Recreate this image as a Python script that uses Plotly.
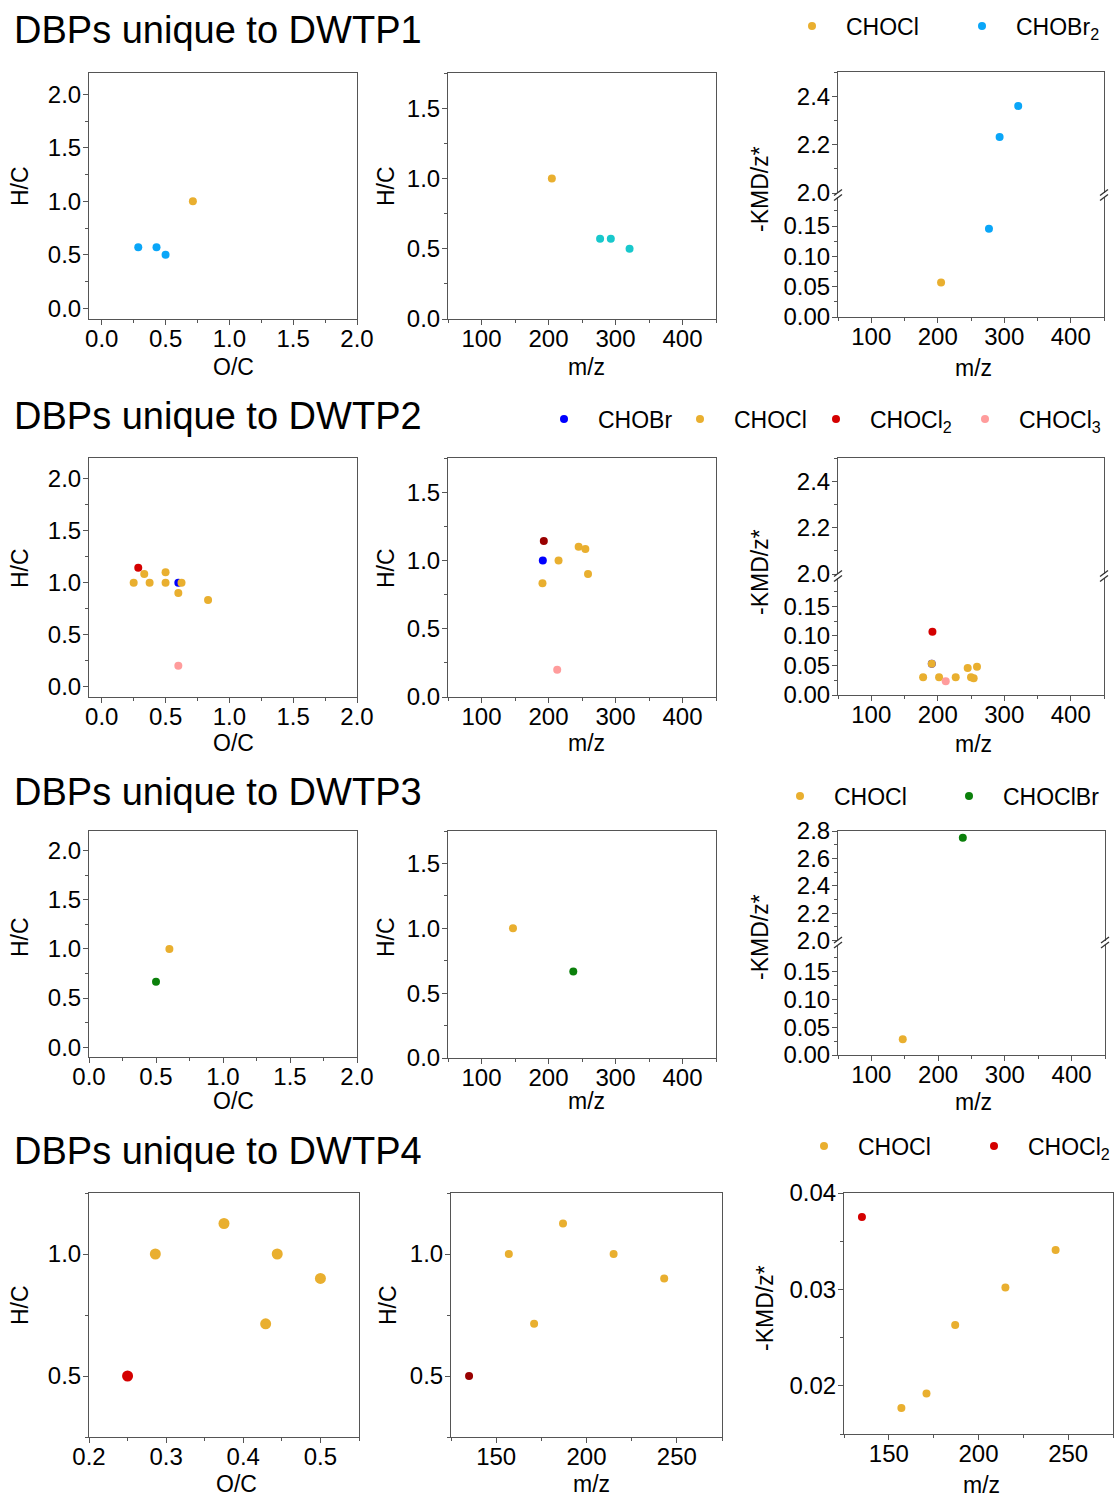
import copy
import plotly.graph_objects as go

W, H = 1115, 1497

# ---------------- data ----------------
# DWTP1
d1_chocl_oc = [0.714]
d1_chocl_hc = [1.0]
d1_chocl_mz = [205]
d1_chocl_kmd = [0.057]
d1_chobr2_oc = [0.286, 0.429, 0.5]
d1_chobr2_hc = [0.571, 0.571, 0.5]
d1_chobr2_mz = [277, 293, 321]
d1_chobr2_kmd = [0.1455, 2.231, 2.36]

# DWTP2  (van Krevelen panel)
d2_vk_chobr_oc = [0.6]
d2_vk_chobr_hc = [1.0]
d2_vk_chocl_oc = [0.25, 0.333, 0.375, 0.5, 0.5, 0.6, 0.625, 0.833]
d2_vk_chocl_hc = [1.0, 1.083, 1.0, 1.1, 1.0, 0.9, 1.0, 0.833]
d2_vk_chocl2_oc = [0.286]
d2_vk_chocl2_hc = [1.143]
d2_vk_chocl3_oc = [0.6]
d2_vk_chocl3_hc = [0.2]
# DWTP2  (m/z vs H/C panel)
d2_mh_chobr_mz = [191.5]
d2_mh_chobr_hc = [1.0]
d2_mh_chocl_mz = [191, 215, 245, 255, 259]
d2_mh_chocl_hc = [0.833, 1.0, 1.1, 1.083, 0.9]
d2_mh_chocl2_mz = [193]
d2_mh_chocl2_hc = [1.143]
d2_mh_chocl3_mz = [213]
d2_mh_chocl3_hc = [0.2]
# DWTP2  (m/z vs -KMD/z* panel)
d2_km_chobr_mz = [191]
d2_km_chobr_kmd = [0.053]
d2_km_chocl_mz = [178, 191, 202, 227, 245, 250, 254, 259]
d2_km_chocl_kmd = [0.030, 0.053, 0.030, 0.030, 0.0455, 0.030, 0.0285, 0.048]
d2_km_chocl2_mz = [192]
d2_km_chocl2_kmd = [0.107]
d2_km_chocl3_mz = [212]
d2_km_chocl3_kmd = [0.0234]

# DWTP3
d3_chocl_oc = [0.6]
d3_chocl_hc = [1.0]
d3_chocl_mz = [147]
d3_chocl_kmd = [0.028]
d3_choclbr_oc = [0.5]
d3_choclbr_hc = [0.667]
d3_choclbr_mz = [237]
d3_choclbr_kmd = [2.75]

# DWTP4
d4_chocl_oc = [0.286, 0.429, 0.375, 0.444, 0.5]
d4_chocl_hc = [1.0, 0.714, 1.125, 1.0, 0.9]
d4_chocl_mz = [157, 171, 187, 215, 243]
d4_chocl_kmd = [0.0177, 0.0192, 0.0263, 0.0302, 0.0341]
d4_chocl2_oc = [0.25]
d4_chocl2_hc = [0.5]
d4_chocl2_mz = [135]
d4_chocl2_kmd = [0.0375]

row_titles = ["DBPs unique to DWTP1", "DBPs unique to DWTP2",
              "DBPs unique to DWTP3", "DBPs unique to DWTP4"]

# ---------------- style ----------------
ORANGE = "#E9AF2F"
BLUE_BR2 = "#0AA6F8"
TEAL = "#18C8CC"
BLUE = "#0000FF"
RED = "#D40000"
DARKRED = "#990000"
PINK = "#FF9C9C"
GREEN = "#0B800B"
AXC = "#555555"
FONT = "Arial, Liberation Sans, sans-serif"
TICKSIZE = 24

AXBASE = dict(showline=True, linecolor=AXC, linewidth=1, ticks="outside", ticklen=5,
              tickwidth=1, tickcolor=AXC, showgrid=False, zeroline=False, automargin=False,
              tickfont=dict(size=TICKSIZE, color="black", family=FONT),
              minor=dict(ticks="outside", ticklen=3, tickwidth=1, tickcolor=AXC, showgrid=False))

layout = dict(width=W, height=H, margin=dict(l=0, r=0, t=0, b=0, autoexpand=False),
              paper_bgcolor="white", plot_bgcolor="white",
              font=dict(family=FONT, size=22, color="black"))
annotations = []
shapes = []
traces = []
n = [0]


def px(x):
    return x / W


def py(y):
    return 1 - y / H


def subplot(box, xr, yr, xo, yo):
    n[0] += 1
    k = n[0]
    l, t, r, b = box
    xn = "xaxis" if k == 1 else f"xaxis{k}"
    yn = "yaxis" if k == 1 else f"yaxis{k}"
    xref = "x" if k == 1 else f"x{k}"
    yref = "y" if k == 1 else f"y{k}"
    xa = copy.deepcopy(AXBASE)
    xa.update(domain=[px(l), px(r)], range=xr, anchor=yref, ticklabelstandoff=-7)
    for kk, v in xo.items():
        if kk == "minor":
            xa["minor"].update(v)
        else:
            xa[kk] = v
    ya = copy.deepcopy(AXBASE)
    ya.update(domain=[py(b), py(t)], range=yr, anchor=xref, ticklabelstandoff=-3)
    for kk, v in yo.items():
        if kk == "minor":
            ya["minor"].update(v)
        else:
            ya[kk] = v
    layout[xn] = xa
    layout[yn] = ya
    return xref, yref


def pts(ax, xs, ys, color, size, name, legend, show):
    traces.append(go.Scatter(x=xs, y=ys, mode="markers", xaxis=ax[0], yaxis=ax[1],
                             marker=dict(color=color, size=size, line=dict(width=0)),
                             name=name, legend=legend, showlegend=show, hoverinfo="x+y+name"))


def text(x, y, s, size=23, angle=0, anchor="center"):
    annotations.append(dict(x=px(x), y=py(y), xref="paper", yref="paper", text=s,
                            showarrow=False, textangle=angle, xanchor=anchor, yanchor="middle",
                            font=dict(size=size, family=FONT, color="black")))


def breakmark(x, yj):
    for d in (-2.5, 2.5):
        shapes.append(dict(type="line", xref="paper", yref="paper",
                           x0=px(x - 4), y0=py(yj + d + 3), x1=px(x + 4), y1=py(yj + d - 3),
                           line=dict(color="#333333", width=1.3)))


VK_X = dict(dtick=0.5, tick0=0, tickformat=".1f", mirror=True, minor=dict(dtick=0.25))
VK_Y = dict(dtick=0.5, tick0=0, tickformat=".1f", mirror=True, minor=dict(dtick=0.25))
MZ_X = dict(dtick=100, tick0=0, mirror=True, minor=dict(dtick=50))
UP_X = dict(side="top", ticks="", showticklabels=False, mirror=False, minor=dict(ticks=""))
LO_X = dict(dtick=100, tick0=0, mirror=False, minor=dict(dtick=50))
LO_Y = dict(dtick=0.05, tick0=0, tickformat=".2f", mirror=True, minor=dict(dtick=0.025))


def up_y():
    return dict(dtick=0.2, tick0=0, tickformat=".1f", mirror=True, minor=dict(dtick=0.1))


def broken(l, r, top, junction, bottom, upr, lowr):
    a_up = subplot((l, top, r, junction - 2), [50, 450], upr, UP_X, up_y())
    a_lo = subplot((l, junction + 2, r, bottom), [50, 450], lowr, LO_X, LO_Y)
    breakmark(l, junction)
    breakmark(r, junction)
    return a_up, a_lo


LOW_KMD = [0, 0.198]

# ---------------- row 1 ----------------
a1 = subplot((89, 73, 357, 319), [-0.1, 2.0], [-0.1, 2.2], VK_X, VK_Y)
b1 = subplot((448, 73, 716, 319), [50, 450], [0, 1.75], MZ_X, VK_Y)
c1u, c1l = broken(838, 1104, 72, 195, 317, [2.0, 2.5], LOW_KMD)

pts(a1, d1_chocl_oc, d1_chocl_hc, ORANGE, 8, "CHOCl", "legend", True)
pts(a1, d1_chobr2_oc, d1_chobr2_hc, BLUE_BR2, 8, "CHOBr<sub>2</sub>", "legend", True)
pts(b1, d1_chocl_mz, d1_chocl_hc, ORANGE, 8, "CHOCl", "legend", False)
pts(b1, d1_chobr2_mz, d1_chobr2_hc, TEAL, 8, "CHOBr<sub>2</sub>", "legend", False)
for ax in (c1u, c1l):
    pts(ax, d1_chocl_mz, d1_chocl_kmd, ORANGE, 8, "CHOCl", "legend", False)
    pts(ax, d1_chobr2_mz, d1_chobr2_kmd, BLUE_BR2, 8, "CHOBr<sub>2</sub>", "legend", False)

# ---------------- row 2 ----------------
a2 = subplot((89, 458, 357, 697), [-0.1, 2.0], [-0.1, 2.2], VK_X, VK_Y)
b2 = subplot((448, 458, 716, 697), [50, 450], [0, 1.75], MZ_X, VK_Y)
c2u, c2l = broken(838, 1104, 458, 576, 695, [2.0, 2.5], LOW_KMD)

pts(a2, d2_vk_chobr_oc, d2_vk_chobr_hc, BLUE, 8, "CHOBr", "legend2", True)
pts(a2, d2_vk_chocl_oc, d2_vk_chocl_hc, ORANGE, 8, "CHOCl", "legend2", True)
pts(a2, d2_vk_chocl2_oc, d2_vk_chocl2_hc, RED, 8, "CHOCl<sub>2</sub>", "legend2", True)
pts(a2, d2_vk_chocl3_oc, d2_vk_chocl3_hc, PINK, 8, "CHOCl<sub>3</sub>", "legend2", True)
pts(b2, d2_mh_chobr_mz, d2_mh_chobr_hc, BLUE, 8, "CHOBr", "legend2", False)
pts(b2, d2_mh_chocl_mz, d2_mh_chocl_hc, ORANGE, 8, "CHOCl", "legend2", False)
pts(b2, d2_mh_chocl2_mz, d2_mh_chocl2_hc, DARKRED, 8, "CHOCl<sub>2</sub>", "legend2", False)
pts(b2, d2_mh_chocl3_mz, d2_mh_chocl3_hc, PINK, 8, "CHOCl<sub>3</sub>", "legend2", False)
for ax in (c2u, c2l):
    pts(ax, d2_km_chobr_mz, d2_km_chobr_kmd, BLUE, 8, "CHOBr", "legend2", False)
    pts(ax, d2_km_chocl_mz, d2_km_chocl_kmd, ORANGE, 8, "CHOCl", "legend2", False)
    pts(ax, d2_km_chocl2_mz, d2_km_chocl2_kmd, RED, 8, "CHOCl<sub>2</sub>", "legend2", False)
    pts(ax, d2_km_chocl3_mz, d2_km_chocl3_kmd, PINK, 8, "CHOCl<sub>3</sub>", "legend2", False)

# ---------------- row 3 ----------------
a3 = subplot((89, 831, 357, 1057), [0, 2.0], [-0.1, 2.2], VK_X, VK_Y)
b3 = subplot((448, 831, 716, 1058), [50, 450], [0, 1.75], MZ_X, VK_Y)
c3u, c3l = broken(838, 1105, 831, 942.5, 1055, [2.0, 2.8], LOW_KMD)

pts(a3, d3_chocl_oc, d3_chocl_hc, ORANGE, 8, "CHOCl", "legend3", True)
pts(a3, d3_choclbr_oc, d3_choclbr_hc, GREEN, 8, "CHOClBr", "legend3", True)
pts(b3, d3_chocl_mz, d3_chocl_hc, ORANGE, 8, "CHOCl", "legend3", False)
pts(b3, d3_choclbr_mz, d3_choclbr_hc, GREEN, 8, "CHOClBr", "legend3", False)
for ax in (c3u, c3l):
    pts(ax, d3_chocl_mz, d3_chocl_kmd, ORANGE, 8, "CHOCl", "legend3", False)
    pts(ax, d3_choclbr_mz, d3_choclbr_kmd, GREEN, 8, "CHOClBr", "legend3", False)

# ---------------- row 4 ----------------
a4 = subplot((89, 1193, 359, 1437), [0.2, 0.55], [0.25, 1.25],
             dict(dtick=0.1, tick0=0, tickformat=".1f", mirror=True, minor=dict(dtick=0.05)), VK_Y)
b4 = subplot((451, 1193, 722, 1437), [125, 275], [0.25, 1.25],
             dict(dtick=50, tick0=0, mirror=True, minor=dict(dtick=25)), VK_Y)
c4 = subplot((844, 1193, 1113, 1434), [125, 275], [0.015, 0.04],
             dict(dtick=50, tick0=0, mirror=True, minor=dict(dtick=25)),
             dict(dtick=0.01, tick0=0, tickformat=".2f", mirror=True, minor=dict(dtick=0.005)))

pts(a4, d4_chocl_oc, d4_chocl_hc, ORANGE, 11, "CHOCl", "legend4", False)
pts(a4, d4_chocl2_oc, d4_chocl2_hc, RED, 11, "CHOCl<sub>2</sub>", "legend4", False)
pts(b4, d4_chocl_mz, d4_chocl_hc, ORANGE, 8, "CHOCl", "legend4", False)
pts(b4, d4_chocl2_mz, d4_chocl2_hc, DARKRED, 8, "CHOCl<sub>2</sub>", "legend4", False)
pts(c4, d4_chocl_mz, d4_chocl_kmd, ORANGE, 8, "CHOCl", "legend4", True)
pts(c4, d4_chocl2_mz, d4_chocl2_kmd, RED, 8, "CHOCl<sub>2</sub>", "legend4", True)

# ---------------- text ----------------
for t, yy in zip(row_titles, [30, 416, 792, 1151]):
    text(12, yy, t, size=38, anchor="left")

for yy in (367, 743, 1101):
    text(233, yy, "O/C")
    text(586, yy, "m/z")
    text(973, yy + 1, "m/z")
text(236, 1484, "O/C")
text(591, 1484, "m/z")
text(981, 1485, "m/z")

for yy, yc in ((186, 189), (568, 572), (937, 937)):
    text(20, yy, "H/C", angle=-90)
    text(386, yy, "H/C", angle=-90)
    text(760, yc, "-KMD/z*", angle=-90)
text(20, 1305, "H/C", angle=-90)
text(388, 1305, "H/C", angle=-90)
text(765, 1308, "-KMD/z*", angle=-90)


def legend_cfg(left_px, center_y, entry=None):
    d = dict(x=px(left_px), y=py(center_y), xanchor="left", yanchor="middle",
             orientation="h", itemwidth=58, bgcolor="rgba(0,0,0,0)", borderwidth=0,
             font=dict(size=23, family=FONT, color="black"), itemclick=False,
             itemdoubleclick=False)
    if entry is not None:
        d.update(entrywidth=entry, entrywidthmode="pixels")
    return d


layout["legend"] = legend_cfg(778, 26, 97)
layout["legend2"] = legend_cfg(530, 419)
layout["legend3"] = legend_cfg(766, 796, 96)
layout["legend4"] = legend_cfg(790, 1146, 97)

# fixed entry widths for the four-item legend of DWTP2
for tr in traces:
    if tr.legend == "legend2" and tr.showlegend:
        tr.legendwidth = {"CHOBr": 63, "CHOCl": 63, "CHOCl<sub>2</sub>": 76}.get(tr.name, None)

layout["annotations"] = annotations
layout["shapes"] = shapes

fig = go.Figure(data=traces, layout=layout)
fig.write_html("out.html")
